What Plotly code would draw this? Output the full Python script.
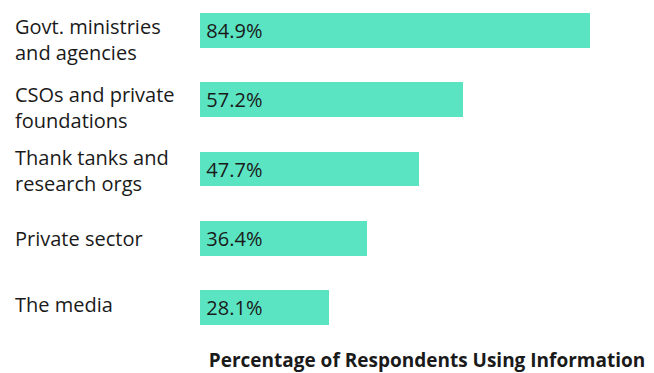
import plotly.graph_objects as go

categories = [
    "Govt. ministries<br>and agencies",
    "CSOs and private<br>foundations",
    "Thank tanks and<br>research orgs",
    "Private sector",
    "The media",
]
values = [84.9, 57.2, 47.7, 36.4, 28.1]
value_labels = [f"\u2009{v:.1f}%" for v in values]
axis_title = "Percentage of Respondents Using Information"

# downward nudge (px) for the left-hand category labels
label_drop = [9.5, 8, 2, 0, -3]

FONT = "'Open Sans', Lato, sans-serif"
BAR = "#5be4c2"
INK = "#1a1a1a"
PLOT_W = 454

fig = go.Figure(
    go.Bar(
        x=values,
        y=categories,
        orientation="h",
        marker=dict(color=BAR, line=dict(width=0)),
        width=0.505,
        text=value_labels,
        textposition="inside",
        insidetextanchor="start",
        textfont=dict(family=FONT, size=20, color=INK),
        cliponaxis=False,
    )
)

for cat, dy in zip(categories, label_drop):
    fig.add_annotation(
        x=-187 / PLOT_W,
        xref="paper",
        y=cat,
        yref="y",
        text=cat,
        showarrow=False,
        xanchor="left",
        yanchor="middle",
        align="left",
        yshift=-dy,
        font=dict(family=FONT, size=20, color=INK),
    )

fig.update_layout(
    width=654,
    height=373,
    margin=dict(l=200, r=0, t=0, b=40),
    paper_bgcolor="white",
    plot_bgcolor="white",
    showlegend=False,
    bargap=0,
    xaxis=dict(
        range=[0, 98.8],
        showgrid=False,
        zeroline=False,
        showticklabels=False,
        ticks="",
        title=dict(
            text=f"<b>{axis_title}</b>",
            font=dict(family=FONT, size=19, color=INK),
            standoff=22,
        ),
        fixedrange=True,
    ),
    yaxis=dict(
        range=[4.368, -0.440],
        showgrid=False,
        zeroline=False,
        showticklabels=False,
        ticks="",
        fixedrange=True,
    ),
)

fig.write_html("out.html", config={"displayModeBar": False})
